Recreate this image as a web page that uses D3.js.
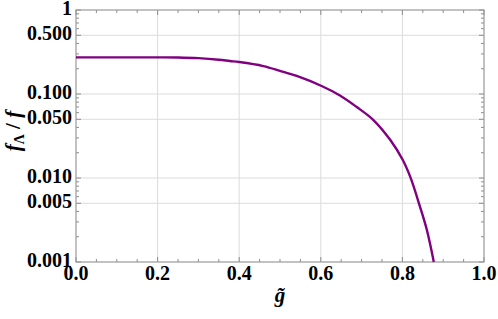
<!DOCTYPE html>
<html>
<head>
<meta charset="utf-8">
<script src="https://cdn.jsdelivr.net/npm/d3@7"></script>
</head>
<body style="margin:0">
<div id="chart"></div>
<script>
// curve
var gValues = [0, 0.1, 0.2, 0.25, 0.3, 0.35, 0.377, 0.4, 0.459, 0.5, 0.541, 0.602, 0.647, 0.688, 0.729, 0.77, 0.801, 0.82, 0.843, 0.86, 0.877];
var ratioValues = [0.273, 0.273, 0.273, 0.272, 0.267, 0.256, 0.247, 0.24, 0.215, 0.189, 0.164, 0.1245, 0.096, 0.070, 0.049, 0.0285, 0.0164, 0.0101, 0.00457, 0.0024, 0.001];

var xTicks = [0, 0.2, 0.4, 0.6, 0.8, 1.0];
var yTicks = [1, 0.5, 0.1, 0.05, 0.01, 0.005, 0.001];
var yTickLabels = ["1", "0.500", "0.100", "0.050", "0.010", "0.005", "0.001"];
var xGrid = [0.2, 0.4, 0.6, 0.8];
var yGrid = [0.5, 0.1, 0.05, 0.01, 0.005];

var W = 498, H = 319;
var margin = {top: 10, right: 14, bottom: 57, left: 76},
    width = W - margin.left - margin.right,
    height = H - margin.top - margin.bottom;

var data = gValues.map(function(g, i) { return {g: g, r: ratioValues[i]}; });

var x = d3.scaleLinear().domain([0, 1]).range([margin.left, margin.left + width]);
var y = d3.scaleLog().domain([0.001, 1]).range([margin.top + height, margin.top]);
var x0 = margin.left, x1 = margin.left + width, y0 = margin.top + height, y1 = margin.top;

var svg = d3.select("#chart").append("svg")
    .attr("width", W)
    .attr("height", H);

// grid
svg.selectAll(".gx").data(xGrid).enter().append("line")
  .attr("x1", function(d){ return x(d) }).attr("x2", function(d){ return x(d) })
  .attr("y1", y1).attr("y2", y0)
  .attr("stroke", "#dcdcdc").attr("stroke-width", 1);
svg.selectAll(".gy").data(yGrid).enter().append("line")
  .attr("y1", function(d){ return y(d) }).attr("y2", function(d){ return y(d) })
  .attr("x1", x0).attr("x2", x1)
  .attr("stroke", "#dcdcdc").attr("stroke-width", 1);

// minor ticks
var xMinor = d3.range(0, 1.0001, 0.05);
var yMinor = [];
[0.001, 0.01, 0.1].forEach(function(b) { for (var k = 1; k < 10; k++) yMinor.push(b * k); });
yMinor.push(1);

var tickCol = "#8c8c8c";
function isMajorX(d) { return Math.abs(d * 5 - Math.round(d * 5)) < 1e-6; }
function isMajorY(d) { return yTicks.some(function(t){ return Math.abs(t - d) / t < 1e-6; }); }

svg.selectAll(".tb").data(xMinor).enter().append("line")
  .attr("x1", function(d){ return x(d) }).attr("x2", function(d){ return x(d) })
  .attr("y1", y0).attr("y2", function(d){ return y0 - (isMajorX(d) ? 5 : 3) })
  .attr("stroke", tickCol);
svg.selectAll(".tt").data(xMinor).enter().append("line")
  .attr("x1", function(d){ return x(d) }).attr("x2", function(d){ return x(d) })
  .attr("y1", y1).attr("y2", function(d){ return y1 + (isMajorX(d) ? 5 : 3) })
  .attr("stroke", tickCol);
svg.selectAll(".tl").data(yMinor).enter().append("line")
  .attr("y1", function(d){ return y(d) }).attr("y2", function(d){ return y(d) })
  .attr("x1", x0).attr("x2", function(d){ return x0 + (isMajorY(d) ? 5 : 3) })
  .attr("stroke", tickCol);
svg.selectAll(".tr").data(yMinor).enter().append("line")
  .attr("y1", function(d){ return y(d) }).attr("y2", function(d){ return y(d) })
  .attr("x1", x1).attr("x2", function(d){ return x1 - (isMajorY(d) ? 5 : 3) })
  .attr("stroke", tickCol);

// frame
svg.append("rect")
  .attr("x", x0).attr("y", y1)
  .attr("width", width).attr("height", height)
  .attr("fill", "none").attr("stroke", "#9a9a9a").attr("stroke-width", 1.2);

// curve
var line = d3.line()
  .x(function(d){ return x(d.g) })
  .y(function(d){ return y(d.r) })
  .curve(d3.curveCatmullRom.alpha(0.5));

svg.append("path")
  .datum(data)
  .attr("d", line)
  .attr("fill", "none")
  .attr("stroke", "#800080")
  .attr("stroke-width", 2.4);

// labels
function serifText(sel) {
  return sel.style("font-family", "'Liberation Serif'").style("font-weight", "bold");
}

serifText(svg.selectAll(".xl").data(xTicks).enter().append("text"))
  .attr("y", y0 + 18)
  .style("font-size", "20px")
  .text(function(d){ return d.toFixed(1) })
  .attr("x", function(d){ return x(d) - this.getComputedTextLength() / 2 });

serifText(svg.selectAll(".yl").data(yTicks).enter().append("text"))
  .attr("y", function(d){ return y(d) + 4.5 })
  .style("font-size", "20px")
  .text(function(d, i){ return yTickLabels[i] })
  .attr("x", function(d){ return x0 - 4 - this.getComputedTextLength() });

serifText(svg.append("text"))
  .attr("y", y0 + 40)
  .style("font-size", "21px").style("font-style", "italic")
  .text("g\u0303")
  .attr("x", function(){ return x(0.5) - this.getComputedTextLength() / 2 });

var yt = serifText(svg.append("text"))
  .style("font-size", "21px").style("font-style", "italic");
yt.append("tspan").text("f");
yt.append("tspan").style("font-size", "14px").style("font-style", "normal").attr("dy", 4).text("\u039b");
yt.append("tspan").attr("dy", -4).style("font-style", "normal").text(" / ");
yt.append("tspan").text("f");
var ytLen = yt.node().getComputedTextLength();
yt.attr("transform", "translate(" + (x0 - 56) + "," + (margin.top + height / 2 - 5 + ytLen / 2) + ") rotate(-90)");
</script>
</body>
</html>
